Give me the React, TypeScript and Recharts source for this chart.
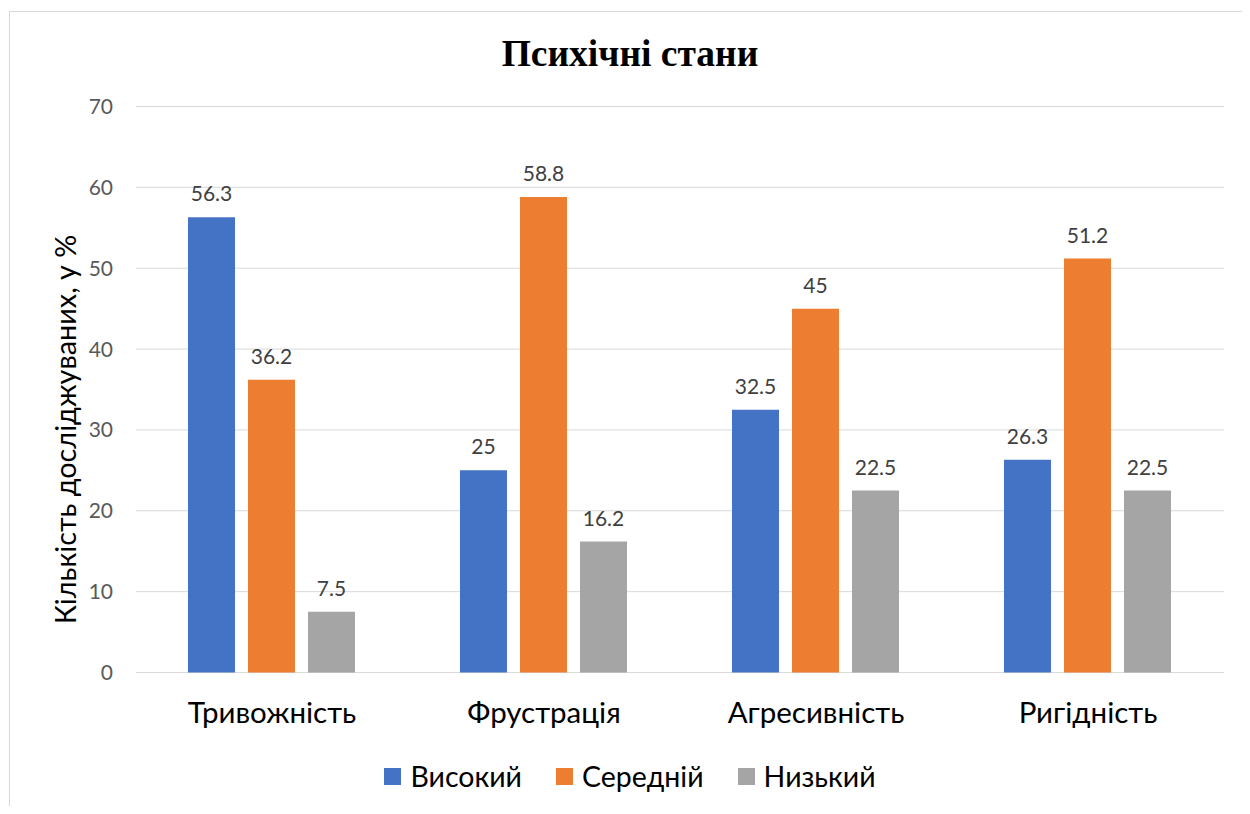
import { BarChart, Bar, XAxis, YAxis, CartesianGrid, Legend, LabelList } from "recharts";

const CATEGORIES = ["Тривожність", "Фрустрація", "Агресивність", "Ригідність"];
const HIGH = [56.3, 25, 32.5, 26.3];
const MEDIUM = [36.2, 58.8, 45, 51.2];
const LOW = [7.5, 16.2, 22.5, 22.5];
const Y_TICKS = [0, 10, 20, 30, 40, 50, 60, 70];

const SERIES = [
  { key: "high", name: "Високий", color: "#4472C4" },
  { key: "medium", name: "Середній", color: "#ED7D31" },
  { key: "low", name: "Низький", color: "#A5A5A5" },
];

const data = CATEGORIES.map((cat, i) => ({
  category: cat,
  high: HIGH[i],
  medium: MEDIUM[i],
  low: LOW[i],
}));

const SANS = "Lato, 'Open Sans', sans-serif";

function YLabel({ viewBox }: any) {
  const x = viewBox.x + 55;
  const y = viewBox.y + viewBox.height / 2 + 40;
  return (
    <text
      x={x}
      y={y}
      transform={`rotate(-90 ${x} ${y})`}
      textAnchor="middle"
      dominantBaseline="central"
      fontSize={28.8}
      fontFamily={SANS}
      fill="#000"
    >
      Кількість досліджуваних, у %
    </text>
  );
}

function LegendContent() {
  return (
    <div style={{ display: "flex", justifyContent: "center", alignItems: "center", fontFamily: SANS }}>
      {SERIES.map((s, i) => (
        <div key={s.key} style={{ display: "flex", alignItems: "center", marginLeft: i === 0 ? 0 : 34 }}>
          <span style={{ width: 17, height: 17, background: s.color, marginRight: 9, display: "inline-block" }} />
          <span style={{ fontSize: 28.5, color: "#000", lineHeight: "30px" }}>{s.name}</span>
        </div>
      ))}
    </div>
  );
}

export default function App() {
  return (
    <div
      style={{
        marginLeft: 1,
        marginTop: 3,
        width: 1240,
        height: 794,
        borderTop: "1px solid #d9d9d9",
        borderLeft: "1px solid #d9d9d9",
        position: "relative",
        overflow: "hidden",
        background: "#fff",
      }}
    >
      <div
        style={{
          position: "absolute",
          top: 24,
          left: 0,
          width: 1240,
          textAlign: "center",
          fontFamily: "'Liberation Serif', 'Times New Roman', serif",
          fontWeight: "bold",
          fontSize: 37.5,
          lineHeight: "36px",
        }}
      >
        Психічні стани
      </div>
      <BarChart
        width={1240}
        height={794}
        data={data}
        margin={{ top: 94.5, right: 26, left: 0, bottom: 73.5 }}
        barCategoryGap={52}
        barGap={13}
      >
        <CartesianGrid vertical={false} stroke="#d9d9d9" strokeWidth={1} />
        <XAxis
          dataKey="category"
          axisLine={false}
          tickLine={false}
          tickSize={0}
          tickMargin={30}
          height={60}
          tick={{ fontSize: 29.5, fill: "#000", fontFamily: SANS }}
          interval={0}
        />
        <YAxis
          width={126}
          domain={[0, 70]}
          ticks={Y_TICKS}
          axisLine={false}
          tickLine={false}
          tickSize={0}
          tickMargin={23}
          tick={{ fontSize: 21, fill: "#595959", fontFamily: SANS }}
          label={<YLabel />}
        />
        <Legend
          verticalAlign="middle"
          align="center"
          layout="horizontal"
          wrapperStyle={{ top: 749, left: 0, width: 1240 }}
          content={<LegendContent />}
        />
        {SERIES.map((s) => (
          <Bar key={s.key} dataKey={s.key} name={s.name} fill={s.color} isAnimationActive={false}>
            <LabelList
              dataKey={s.key}
              position="top"
              offset={16}
              fill="#404040"
              fontSize={21}
              fontFamily={SANS}
            />
          </Bar>
        ))}
      </BarChart>
    </div>
  );
}
